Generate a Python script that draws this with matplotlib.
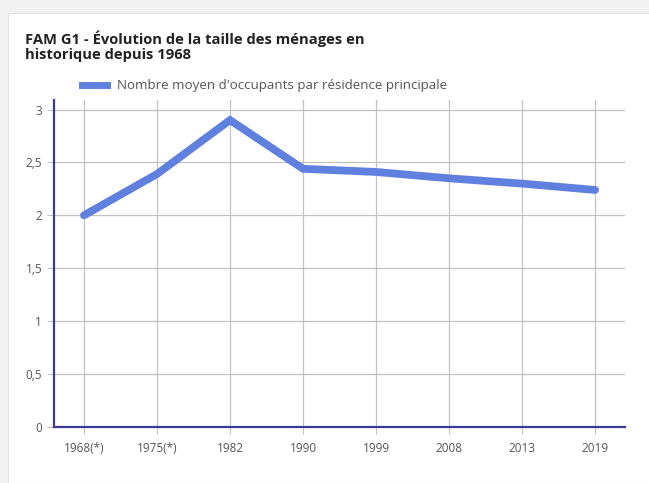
import matplotlib.pyplot as plt
from matplotlib.patches import Rectangle
from matplotlib.lines import Line2D

# Taille moyenne des ménages par recensement
annees = ["1968(*)", "1975(*)", "1982", "1990", "1999", "2008", "2013", "2019"]
occupants = [2.0, 2.39, 2.9, 2.44, 2.41, 2.35, 2.30, 2.24]
yticks = [0, 0.5, 1, 1.5, 2, 2.5, 3]
ylabels = ["0", "0,5", "1", "1,5", "2", "2,5", "3"]

W, H = 649, 483
fig = plt.figure(figsize=(W / 100, H / 100), dpi=100)
fig.patch.set_facecolor("#f1f1f1")
plt.rcParams["font.family"] = ["Open Sans", "DejaVu Sans"]

# carte blanche
fig.patches.append(Rectangle((8 / W, 0), 1, 1 - 13 / H, transform=fig.transFigure,
                             facecolor="white", edgecolor="#e4e4e4", lw=0.8, zorder=-5))

fig.text(25 / W, 1 - 46 / H, "FAM G1 - Évolution de la taille des ménages en\nhistorique depuis 1968",
         fontsize=10.6, fontweight="bold", color="#222222", va="center", linespacing=1.1)

ax = fig.add_axes([54 / W, 1 - 427 / H, (625 - 54) / W, (427 - 100) / H], zorder=2)
ax.patch.set_alpha(0)
x = list(range(len(annees)))
ax.plot(x, occupants, color="#5f80de", lw=5.6, solid_joinstyle="miter", solid_capstyle="round",
        zorder=3, clip_on=False)

ax.set_xlim(-0.41, 7.41)
ax.set_ylim(0, 3.09)
ax.set_xticks(x)
ax.set_xticklabels(annees)
ax.set_yticks(yticks)
ax.set_yticklabels(ylabels)
ax.grid(True, color="#c2c2c2", lw=0.9)
ax.tick_params(axis="both", colors="#c2c2c2", labelcolor="#555555", labelsize=8.5, length=5)
ax.tick_params(axis="x", pad=6)
for s in ["top", "right"]:
    ax.spines[s].set_visible(False)
for s in ["left", "bottom"]:
    ax.spines[s].set_color("#3b3b96")
    ax.spines[s].set_linewidth(1.6)

# légende
handle = Line2D([], [], color="#5f80de", lw=5)
fig.legend([handle], ["Nombre moyen d'occupants par résidence principale"],
           loc="center left", bbox_to_anchor=(70 / W, 1 - 86 / H), frameon=False,
           fontsize=9.6, handlelength=1.9, handletextpad=0.7, labelcolor="#555555")

fig.savefig("out.png", dpi=100, facecolor=fig.get_facecolor())
